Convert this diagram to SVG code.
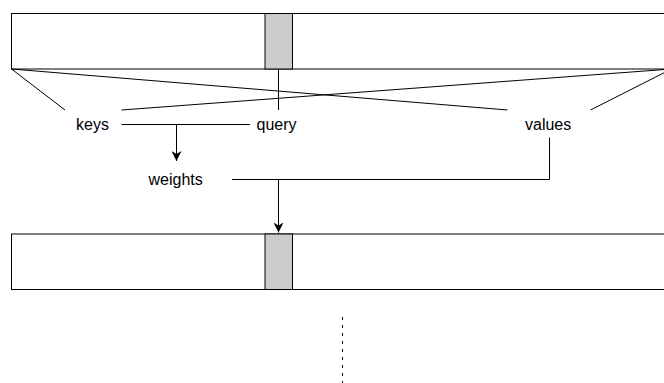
<svg xmlns="http://www.w3.org/2000/svg" width="664" height="383" viewBox="0 0 664 383">
<style>
.box{fill:#fff;stroke:#000;stroke-width:1}
.cell{fill:#ccc;stroke:#000;stroke-width:1}
.ln{fill:none;stroke:#000;stroke-width:1}
.lbl{font-family:"Liberation Sans",Arial,sans-serif;font-size:16px;fill:#000}
</style>
<defs>
<marker id="arr" viewBox="0 0 10 10" refX="10" refY="5" markerWidth="10" markerHeight="10" markerUnits="userSpaceOnUse" orient="auto">
<path d="M0,0 L10,5 L0,10 L3,5 Z" fill="#000"/>
</marker>
</defs>
<rect width="664" height="383" fill="#fff"/>
<g id="top-seq">
<rect class="box" x="11.5" y="13.5" width="660" height="55.5"/>
<rect class="cell" x="265" y="13.5" width="27.5" height="55.5"/>
</g>
<g id="bottom-seq">
<rect class="box" x="11.5" y="234" width="660" height="55.5"/>
<rect class="cell" x="265" y="234" width="27.5" height="55.5"/>
</g>
<g id="keys"><text class="lbl" x="76" y="130">keys</text></g>
<g id="query"><text class="lbl" x="256.5" y="130">query</text></g>
<g id="values"><text class="lbl" x="525" y="130">values</text></g>
<g id="weights"><text class="lbl" x="148.5" y="185">weights</text></g>
<g id="connectors">
<line class="ln" x1="11.5" y1="69" x2="65" y2="110"/>
<line class="ln" x1="11.5" y1="69" x2="507.5" y2="110"/>
<line class="ln" x1="671.5" y1="69" x2="121.5" y2="110"/>
<line class="ln" x1="671.5" y1="69" x2="590.5" y2="110"/>
<line class="ln" x1="278.5" y1="69" x2="278.5" y2="110"/>
<line class="ln" x1="121.5" y1="124.5" x2="250" y2="124.5"/>
<line class="ln" x1="176.5" y1="124.5" x2="176.5" y2="161" marker-end="url(#arr)"/>
<polyline class="ln" points="549.5,137.5 549.5,179.5 232,179.5"/>
<line class="ln" x1="278.5" y1="179.5" x2="278.5" y2="232.5" marker-end="url(#arr)"/>
<line class="ln" x1="342.5" y1="317" x2="342.5" y2="383" stroke-dasharray="3 5"/>
</g>
</svg>
